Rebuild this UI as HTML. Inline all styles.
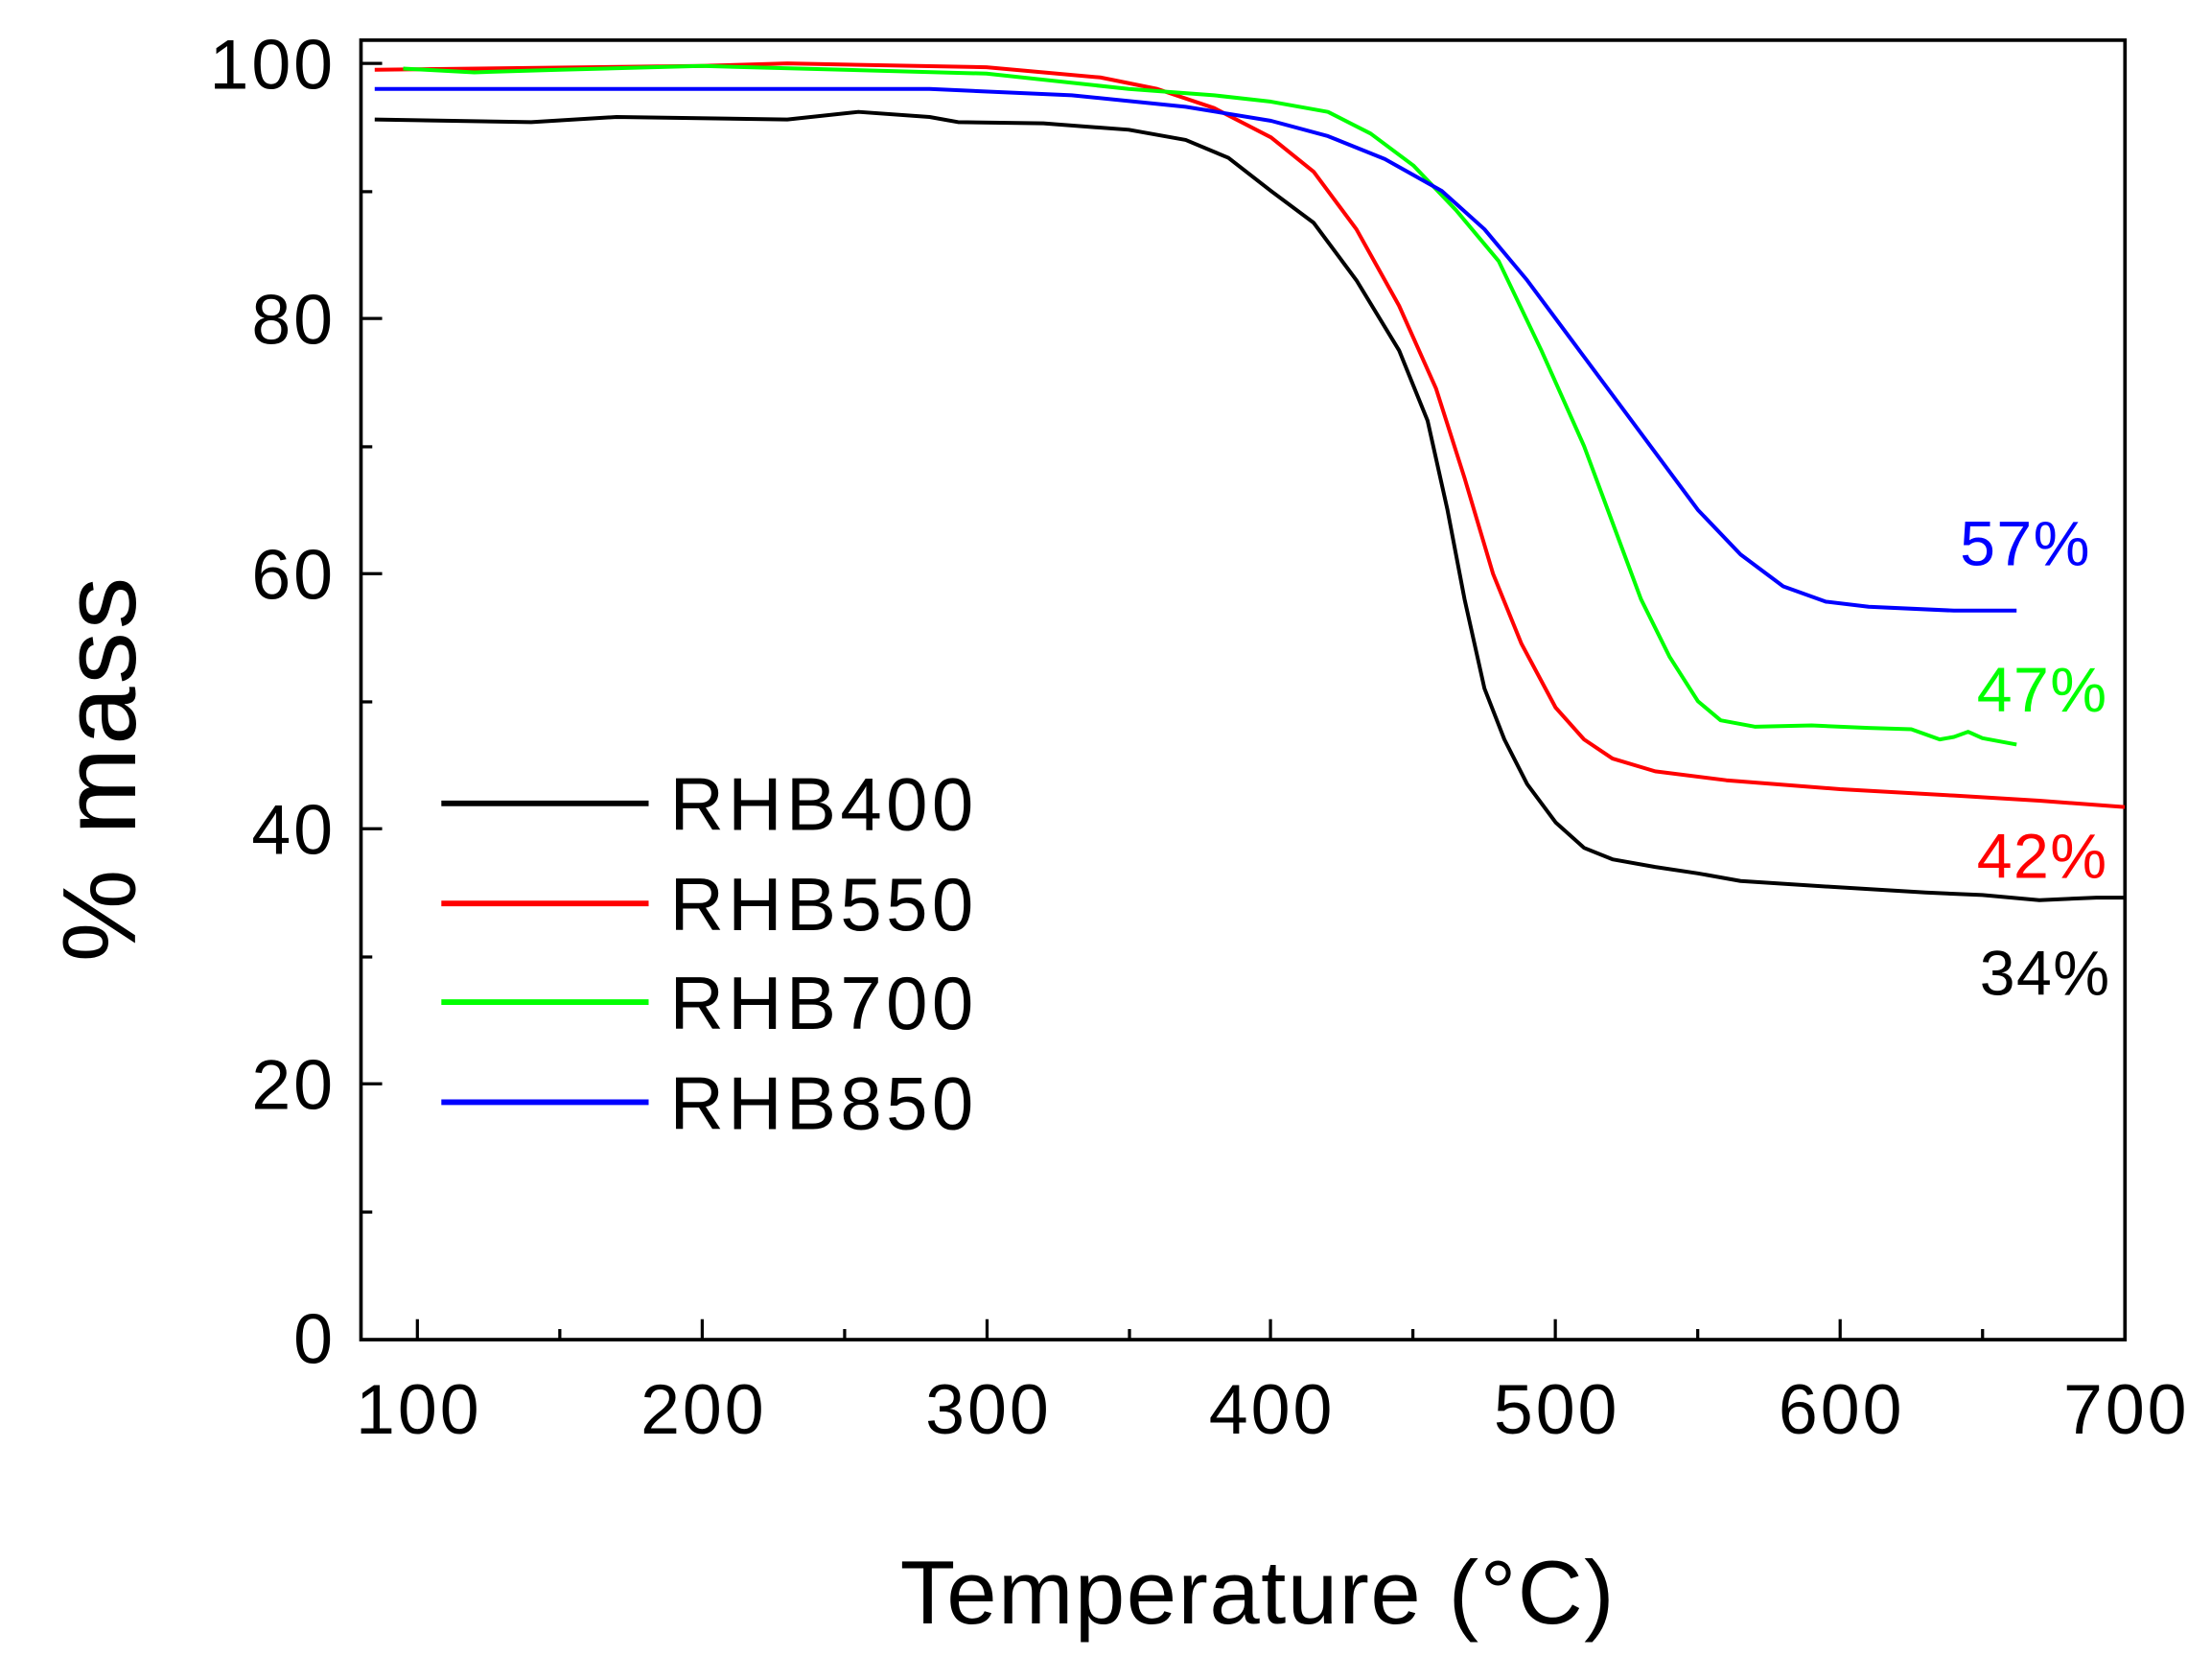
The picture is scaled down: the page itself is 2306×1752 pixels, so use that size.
<!DOCTYPE html>
<html><head><meta charset="utf-8"><style>
html,body{margin:0;padding:0;background:#fff;}
svg{display:block;}
text{font-family:"Liberation Sans",sans-serif;}
</style></head><body>
<svg width="2306" height="1752" viewBox="0 0 1568 1192" preserveAspectRatio="none" xmlns="http://www.w3.org/2000/svg">
<rect x="0" y="0" width="1568" height="1192" fill="#fff"/>
<rect x="256" y="28.5" width="1251" height="922" fill="none" stroke="#000" stroke-width="2.5"/>
<g stroke="#000" stroke-width="2.2">
<line x1="296" y1="950" x2="296" y2="936"/><line x1="397" y1="950" x2="397" y2="943"/>
<line x1="498" y1="950" x2="498" y2="936"/><line x1="599" y1="950" x2="599" y2="943"/>
<line x1="700" y1="950" x2="700" y2="936"/><line x1="801" y1="950" x2="801" y2="943"/>
<line x1="901" y1="950" x2="901" y2="936"/><line x1="1002" y1="950" x2="1002" y2="943"/>
<line x1="1103" y1="950" x2="1103" y2="936"/><line x1="1204" y1="950" x2="1204" y2="943"/>
<line x1="1305" y1="950" x2="1305" y2="936"/><line x1="1406" y1="950" x2="1406" y2="943"/>
<line x1="256" y1="45" x2="271" y2="45"/><line x1="256" y1="136" x2="264" y2="136"/>
<line x1="256" y1="226" x2="271" y2="226"/><line x1="256" y1="317" x2="264" y2="317"/>
<line x1="256" y1="407" x2="271" y2="407"/><line x1="256" y1="498" x2="264" y2="498"/>
<line x1="256" y1="588" x2="271" y2="588"/><line x1="256" y1="679" x2="264" y2="679"/>
<line x1="256" y1="769" x2="271" y2="769"/><line x1="256" y1="860" x2="264" y2="860"/>
</g>
<g font-size="50" text-anchor="middle" fill="#000" letter-spacing="2">
<text x="297" y="1017">100</text><text x="499" y="1017">200</text><text x="701" y="1017">300</text>
<text x="902" y="1017">400</text><text x="1104" y="1017">500</text><text x="1306" y="1017">600</text>
<text x="1508" y="1017">700</text>
</g>
<g font-size="50" text-anchor="end" fill="#000" letter-spacing="2">
<text x="238" y="63">100</text><text x="238" y="244">80</text><text x="238" y="425">60</text>
<text x="238" y="606">40</text><text x="238" y="787">20</text><text x="238" y="967">0</text>
</g>
<text x="892" y="1152" font-size="64" text-anchor="middle" letter-spacing="1">Temperature (°C)</text>
<text transform="translate(96,545) rotate(-90)" font-size="74" text-anchor="middle" letter-spacing="2">% mass</text>
<g fill="none" stroke-width="4" stroke-linejoin="round" transform="matrix(2.018,0,0,-9.05,94.2,950)">
<polyline vector-effect="non-scaling-stroke" stroke="#000" points="85,95.6 140,95.4 170,95.8 230,95.6 255,96.2 280,95.8 290,95.4 320,95.3 350,94.8 370,94 385,92.6 400,90 415,87.5 430,83 445,77.5 455,72 462,65 468,58 475,51 482,47 490,43.5 500,40.5 510,38.5 520,37.6 535,37 550,36.5 565,35.9 600,35.4 630,35 650,34.8 670,34.4 690,34.6 700,34.6"/>
<polyline vector-effect="non-scaling-stroke" stroke="#f00" points="85,99.5 200,99.8 230,100 300,99.7 340,98.9 360,98 380,96.5 400,94.2 415,91.5 430,87 445,81 458,74.5 468,67.5 478,60 488,54.5 500,49.5 510,47 520,45.5 535,44.5 560,43.8 600,43.1 640,42.6 670,42.2 700,41.7"/>
<polyline vector-effect="non-scaling-stroke" stroke="#0f0" points="95,99.6 120,99.3 150,99.5 200,99.8 250,99.5 300,99.2 350,98 380,97.5 400,97 420,96.2 435,94.5 450,92 465,88.5 480,84.5 495,77.5 510,70 520,64 530,58 540,53.5 550,50 558,48.5 570,48 590,48.1 610,47.9 625,47.8 635,47 640,47.2 645,47.6 650,47.1 662,46.6"/>
<polyline vector-effect="non-scaling-stroke" stroke="#00f" points="85,98 200,98 280,98 330,97.5 370,96.6 400,95.5 420,94.3 440,92.5 460,90 475,87 490,83 505,78.5 520,74 535,69.5 550,65 565,61.5 580,59 595,57.8 610,57.4 640,57.1 662,57.1"/>
</g>
<g stroke-width="4">
<line x1="313" y1="570" x2="460" y2="570" stroke="#000"/>
<line x1="313" y1="641" x2="460" y2="641" stroke="#f00"/>
<line x1="313" y1="711" x2="460" y2="711" stroke="#0f0"/>
<line x1="313" y1="782" x2="460" y2="782" stroke="#00f"/>
</g>
<g font-size="53" fill="#000" letter-spacing="3">
<text x="475" y="589">RHB400</text><text x="475" y="660">RHB550</text>
<text x="475" y="730">RHB700</text><text x="475" y="801">RHB850</text>
</g>
<g font-size="45" text-anchor="end" letter-spacing="1">
<text x="1483" y="401" fill="#00f">57%</text>
<text x="1495" y="505" fill="#0f0">47%</text>
<text x="1495" y="623" fill="#f00">42%</text>
<text x="1497" y="706" fill="#000">34%</text>
</g>
</svg>
</body></html>
